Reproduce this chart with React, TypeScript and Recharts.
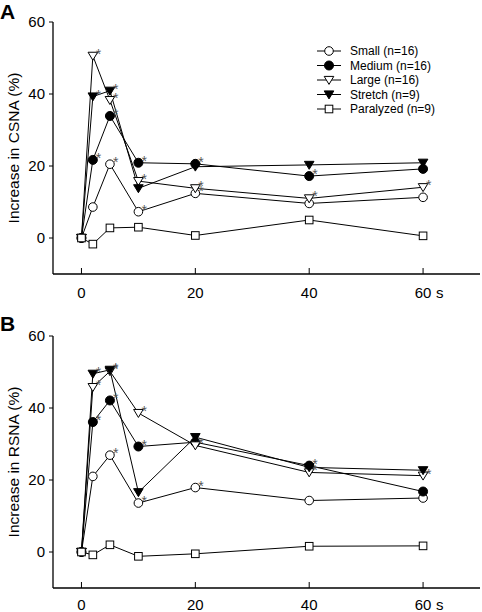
import React from 'react';
import { LineChart, Line, XAxis, YAxis, Legend } from 'recharts';

const times = [0, 2, 5, 10, 20, 40, 60];
const xTicks = [0, 20, 40, 60];
const xTickLabels = ['0', '20', '40', '60 s'];
const yTicks = [0, 20, 40, 60];

const seriesNames = ['Small (n=16)', 'Medium (n=16)', 'Large (n=16)', 'Stretch (n=9)', 'Paralyzed (n=9)'];
const seriesKeys = ['small', 'medium', 'large', 'stretch', 'paralyzed'];
const seriesMarkers = ['openCircle', 'filledCircle', 'openTriangle', 'filledTriangle', 'openSquare'];

// Panel A: CSNA
const smallA = [0, 8.6, 20.5, 7.3, 12.4, 9.6, 11.3];
const mediumA = [0, 21.7, 33.9, 20.9, 20.6, 17.2, 19.2];
const largeA = [0, 50.6, 38.3, 15.8, 13.8, 11.0, 14.1];
const stretchA = [0, 39.3, 40.9, 13.8, 19.8, 20.3, 20.9];
const paralyzedA = [0, -1.7, 2.8, 3.0, 0.7, 5.0, 0.6];

const smallAStar = [0, 0, 1, 1, 1, 0, 0];
const mediumAStar = [0, 1, 1, 1, 1, 1, 0];
const largeAStar = [0, 1, 1, 1, 1, 1, 1];
const stretchAStar = [0, 1, 1, 0, 0, 0, 0];
const paralyzedAStar = [0, 0, 0, 0, 0, 0, 0];

// Panel B: RSNA
const smallB = [0, 21.0, 26.9, 13.6, 17.9, 14.3, 15.0];
const mediumB = [0, 36.1, 42.1, 29.3, 30.5, 24.0, 16.8];
const largeB = [0, 45.8, 50.2, 38.6, 29.6, 22.1, 21.2];
const stretchB = [0, 49.5, 50.6, 16.6, 31.9, 23.5, 22.7];
const paralyzedB = [0, -0.8, 2.0, -1.2, -0.5, 1.6, 1.7];

const smallBStar = [0, 0, 1, 1, 1, 0, 0];
const mediumBStar = [0, 1, 1, 1, 0, 1, 0];
const largeBStar = [0, 1, 1, 1, 1, 1, 1];
const stretchBStar = [0, 1, 1, 0, 0, 0, 0];
const paralyzedBStar = [0, 0, 0, 0, 0, 0, 0];

const FONT = '"Liberation Sans", Arial, sans-serif';

function buildRows(series: number[][]) {
  return times.map((t, i) => {
    const row: any = { t };
    seriesKeys.forEach((k, s) => {
      row[k] = series[s][i];
    });
    return row;
  });
}

const dataA = buildRows([smallA, mediumA, largeA, stretchA, paralyzedA]);
const dataB = buildRows([smallB, mediumB, largeB, stretchB, paralyzedB]);
const starsA = [smallAStar, mediumAStar, largeAStar, stretchAStar, paralyzedAStar];
const starsB = [smallBStar, mediumBStar, largeBStar, stretchBStar, paralyzedBStar];

function Marker({ type, cx, cy }: { type: string; cx: number; cy: number }) {
  switch (type) {
    case 'openCircle':
      return <circle cx={cx} cy={cy} r={4.3} fill="#fff" stroke="#000" strokeWidth={1} />;
    case 'filledCircle':
      return <circle cx={cx} cy={cy} r={4.5} fill="#000" stroke="#000" strokeWidth={1} />;
    case 'openTriangle':
      return (
        <polygon
          points={`${cx - 4.8},${cy - 3.6} ${cx + 4.8},${cy - 3.6} ${cx},${cy + 4.4}`}
          fill="#fff"
          stroke="#000"
          strokeWidth={1}
        />
      );
    case 'filledTriangle':
      return (
        <polygon
          points={`${cx - 4.8},${cy - 3.6} ${cx + 4.8},${cy - 3.6} ${cx},${cy + 4.4}`}
          fill="#000"
          stroke="#000"
          strokeWidth={1}
        />
      );
    case 'openSquare':
      return <rect x={cx - 3.8} y={cy - 3.8} width={7.6} height={7.6} fill="#fff" stroke="#000" strokeWidth={1} />;
    default:
      return null;
  }
}

function makeDot(type: string, stars: number[]) {
  return (props: any) => {
    const { cx, cy, index } = props;
    if (cx == null || cy == null) return <g key={`d-${index}`} />;
    return (
      <g key={`d-${type}-${index}`}>
        <Marker type={type} cx={cx} cy={cy} />
        {stars[index] ? (
          <text x={cx + 3} y={cy + 3} fontSize={14} fill="#555" fontFamily={FONT}>
            *
          </text>
        ) : null}
      </g>
    );
  };
}

const makeXTick = (labelOffset: number) => (props: any) => {
  const { x, y, payload } = props;
  const idx = xTicks.indexOf(payload.value);
  const label = idx >= 0 ? xTickLabels[idx] : String(payload.value);
  const parts = label.split(' ');
  const num = parts[0];
  const unit = parts.length > 1 ? parts.slice(1).join(' ') : '';
  return (
    <g>
      <line x1={x} y1={y} x2={x} y2={y - 6} stroke="#000" strokeWidth={1} />
      <text x={x} y={y + labelOffset} textAnchor="middle" dominantBaseline="central" fontSize={15} fontFamily={FONT} fill="#000">
        {num}
      </text>
      {unit ? (
        <text x={x + 13} y={y + labelOffset} textAnchor="start" dominantBaseline="central" fontSize={15} fontFamily={FONT} fill="#000">
          {unit}
        </text>
      ) : null}
    </g>
  );
};

const makeYLabel = (text: string) => (props: any) => {
  const vb = props.viewBox || { x: 0, y: 22, width: 53, height: 252 };
  const cx = 13;
  const cy = vb.y + vb.height / 2;
  return (
    <text
      x={cx}
      y={cy}
      transform={`rotate(-90 ${cx} ${cy})`}
      textAnchor="middle"
      dominantBaseline="central"
      fontSize={15.5}
      fontFamily={FONT}
      fill="#000"
    >
      {text}
    </text>
  );
};

const renderLegend = () => (
  <svg width={170} height={80} style={{ display: 'block' }}>
    {seriesNames.map((name, i) => {
      const y = 9 + i * 14.5;
      return (
        <g key={name}>
          <line x1={0} y1={y} x2={24} y2={y} stroke="#000" strokeWidth={1} />
          <Marker type={seriesMarkers[i]} cx={12} cy={y} />
          <text x={33} y={y} dominantBaseline="central" fontSize={12} fontFamily={FONT} fill="#000">
            {name}
          </text>
        </g>
      );
    })}
  </svg>
);

function Panel({ data, stars, yLabel, height, xAxisHeight, showLegend, labelOffset }: any) {
  const XTick = makeXTick(labelOffset);
  return (
    <LineChart width={482} height={height} data={data} margin={{ top: 22, right: 2, bottom: 0, left: 0 }}>
      <XAxis
        dataKey="t"
        type="number"
        domain={[-5, 70]}
        ticks={xTicks}
        allowDataOverflow
        height={xAxisHeight}
        tickSize={0}
        tickMargin={0}
        tickLine={false}
        axisLine={{ stroke: '#000', strokeWidth: 1.3 }}
        tick={<XTick />}
        interval={0}
      />
      <YAxis
        type="number"
        domain={[-10, 60]}
        ticks={yTicks}
        allowDataOverflow
        width={53}
        tickSize={4}
        tickMargin={4}
        tickLine={{ stroke: '#000', strokeWidth: 1 }}
        axisLine={{ stroke: '#000', strokeWidth: 1.3 }}
        tick={{ fontSize: 15, fill: '#000', fontFamily: FONT }}
        interval={0}
        label={{ content: makeYLabel(yLabel) }}
      />
      {showLegend ? (
        <Legend
          layout="vertical"
          align="center"
          verticalAlign="middle"
          content={renderLegend}
          wrapperStyle={{ left: 317, top: 42, width: 170, height: 80 }}
        />
      ) : null}
      {seriesKeys.map((k, s) => (
        <Line
          key={k}
          dataKey={k}
          name={seriesNames[s]}
          stroke="#000"
          strokeWidth={1}
          type="linear"
          isAnimationActive={false}
          dot={makeDot(seriesMarkers[s], stars[s])}
          activeDot={false}
        />
      ))}
    </LineChart>
  );
}

export default function App() {
  return (
    <div
      style={{
        position: 'absolute',
        left: 0,
        top: 0,
        width: 482,
        height: 612,
        overflow: 'hidden',
        background: '#fff',
        fontFamily: FONT,
      }}
    >
      <div style={{ position: 'absolute', left: 0, top: 0 }}>
        <Panel data={dataA} stars={starsA} yLabel="Increase in CSNA (%)" height={300} xAxisHeight={26} labelOffset={18} showLegend />
      </div>
      <div style={{ position: 'absolute', left: 0, top: 314 }}>
        <Panel data={dataB} stars={starsB} yLabel="Increase in RSNA (%)" height={298} xAxisHeight={24} labelOffset={16} showLegend={false} />
      </div>
      <div style={{ position: 'absolute', left: 0, top: 2, fontSize: 21, fontWeight: 'bold', fontFamily: FONT, lineHeight: '20px' }}>
        A
      </div>
      <div style={{ position: 'absolute', left: 0, top: 314, fontSize: 21, fontWeight: 'bold', fontFamily: FONT, lineHeight: '20px' }}>
        B
      </div>
    </div>
  );
}
